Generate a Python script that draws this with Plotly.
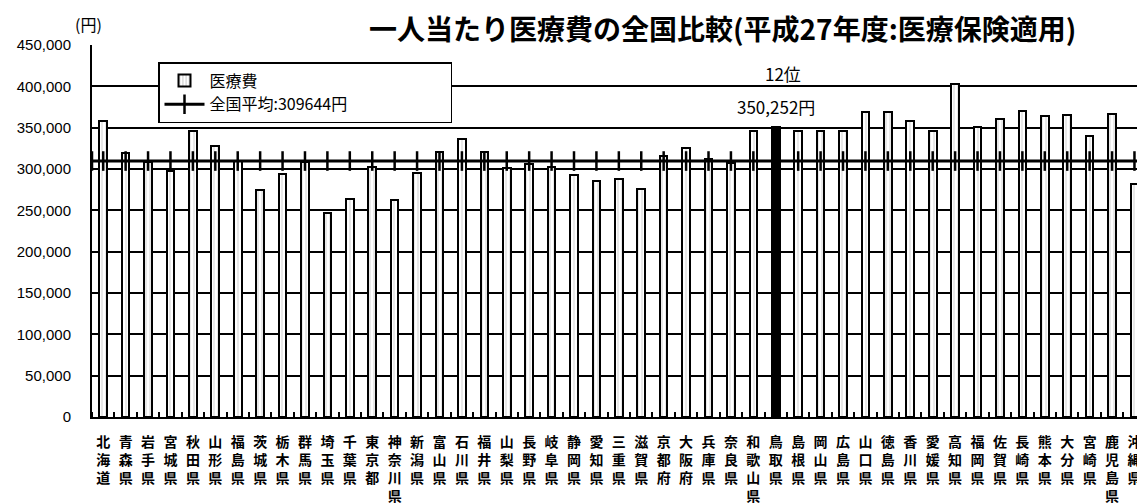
import plotly.graph_objects as go

prefectures = ["北海道","青森県","岩手県","宮城県","秋田県","山形県","福島県","茨城県","栃木県","群馬県",
               "埼玉県","千葉県","東京都","神奈川県","新潟県","富山県","石川県","福井県","山梨県","長野県",
               "岐阜県","静岡県","愛知県","三重県","滋賀県","京都府","大阪府","兵庫県","奈良県","和歌山県",
               "鳥取県","島根県","岡山県","広島県","山口県","徳島県","香川県","愛媛県","高知県","福岡県",
               "佐賀県","長崎県","熊本県","大分県","宮崎県","鹿児島県","沖縄県"]
costs = [357500, 319200, 309000, 297000, 346300, 328000, 310000, 274800, 293800, 309000,
         246600, 263500, 303000, 262700, 295000, 320000, 336600, 320400, 301800, 306000,
         302300, 293000, 284900, 288100, 276000, 316300, 325300, 312000, 307000, 345400,
         350252, 346300, 345400, 345400, 368400, 368400, 357500, 345400, 403100, 350300,
         360400, 369600, 363600, 365600, 340200, 366400, 281700]
national_avg = 309644
highlight = "鳥取県"
rank_text = "12位"
value_text = "350,252円"
y_ticks = [0, 50000, 100000, 150000, 200000, 250000, 300000, 350000, 400000, 450000]

xs = list(range(len(prefectures)))
ticktext = ["<br>".join(list(p)) for p in prefectures]
fill = ["black" if p == highlight else "white" for p in prefectures]
pat_shape = ["" if p == highlight else "|" for p in prefectures]

# page has an 8px body margin: figure drawn from (8, 8)
OFF = 8
W, H = 1145 - OFF, 504 - OFF
L, T, B = 92 - OFF, 45 - OFF, H - (417 - OFF)
PH = H - T - B


def px(x):
    return (x - 92) / 1053


def py(y):
    return (417 - y) / PH


pad = "<span style='color:white'>" + "\u00a0" * 26 + ".</span>"

fig = go.Figure()
fig.add_trace(go.Bar(
    x=xs, y=costs, name="医療費",
    width=0.34,
    marker=dict(color=fill, line=dict(color="black", width=2),
                pattern=dict(shape=pat_shape, fgcolor="black", bgcolor=fill, size=4, solidity=0.12)),
))
fig.add_trace(go.Scatter(
    x=[-0.5] + xs + [46.6], y=[national_avg] * (len(xs) + 2),
    mode="lines+markers", name="全国平均:309644円" + pad,
    line=dict(color="black", width=3),
    marker=dict(symbol="line-ns", size=14, line=dict(color="black", width=2.5)),
))

fig.update_layout(
    width=W, height=H,
    margin=dict(l=L, r=0, t=T, b=B),
    paper_bgcolor="white", plot_bgcolor="white",
    font=dict(family="Noto Sans CJK JP", color="black"),
    showlegend=True,
    legend=dict(x=px(158), y=py(62), xanchor="left", yanchor="top",
                bgcolor="white", bordercolor="black", borderwidth=1.5,
                font=dict(size=16, family="Noto Sans CJK JP"),
                tracegroupgap=0, itemwidth=40),
    bargap=0,
)
fig.update_xaxes(
    range=[-0.5, 46.47], tickmode="array", tickvals=xs, ticktext=ticktext,
    tickfont=dict(size=14, family="Noto Sans CJK JP", weight="bold"),
    showgrid=False, ticks="", ticklabelstandoff=11, automargin=False,
    showline=True, linecolor="black", linewidth=2,
    minor=dict(ticks="inside", tick0=0.5, dtick=1, ticklen=5, tickcolor="black", tickwidth=1.5),
    zeroline=False,
)
fig.update_yaxes(
    range=[0, 450000], tickmode="array", tickvals=y_ticks, tickformat=",",
    tickfont=dict(size=15, family="Liberation Sans"), automargin=False,
    showgrid=True, gridcolor="black", gridwidth=1.5,
    showline=True, linecolor="black", linewidth=2,
    zeroline=False, ticks="", ticklabelstandoff=16,
)
fig.add_annotation(text="一人当たり医療費の全国比較(平成27年度:医療保険適用)",
                   xref="paper", yref="paper", x=px(722), y=py(28),
                   xanchor="center", yanchor="middle", showarrow=False,
                   font=dict(size=28, family="Noto Sans CJK JP", weight="bold"))
fig.add_annotation(text="(円)", xref="paper", yref="paper", x=px(88), y=py(24),
                   xanchor="center", yanchor="middle", showarrow=False,
                   font=dict(size=16, family="Noto Sans CJK JP"))
fig.add_annotation(text=rank_text, xref="paper", yref="paper", x=px(783), y=py(73),
                   xanchor="center", yanchor="middle", showarrow=False,
                   font=dict(size=17, family="Noto Sans CJK JP"))
fig.add_annotation(text=value_text, xref="paper", yref="paper", x=px(776), y=py(107),
                   xanchor="center", yanchor="middle", showarrow=False,
                   font=dict(size=17, family="Noto Sans CJK JP"))

fig.write_html("out.html")
